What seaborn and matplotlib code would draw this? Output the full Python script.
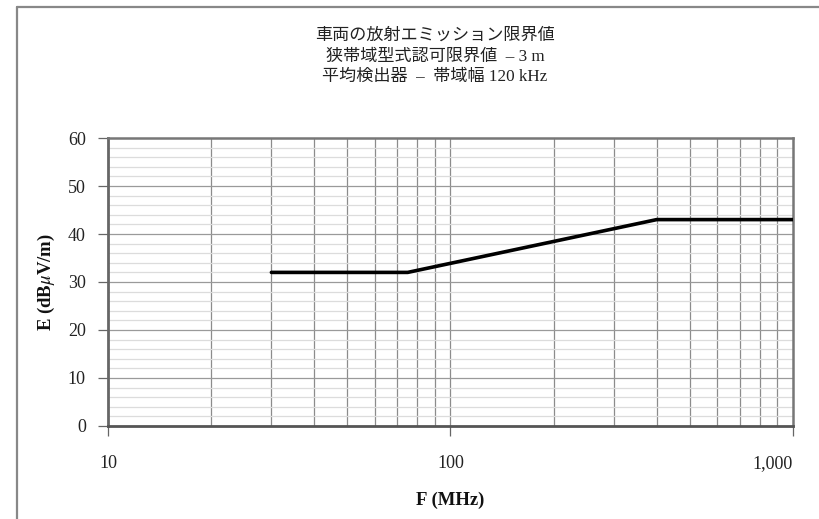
import numpy as np
import pandas as pd
import matplotlib
matplotlib.use("Agg")
import matplotlib.pyplot as plt
from matplotlib.lines import Line2D
from matplotlib.ticker import FixedLocator, FuncFormatter, NullFormatter
import seaborn as sns

# Limit curve: frequency (MHz) vs field strength (dBµV/m)
freq_mhz = [30, 75, 400, 1000]
limit_db = [32, 32, 43, 43]

title_lines = ["車両の放射エミッション限界値", "狭帯域型式認可限界値  – 3 m", "平均検出器  –  帯域幅 120 kHz"]
x_label = "F (MHz)"
y_label = r"E (dB$\mu$V/m)"
x_ticks = [10, 100, 1000]
x_tick_labels = ["10", "100", "1,000"]
y_ticks = [0, 10, 20, 30, 40, 50, 60]

sns.set_theme(style="white")
plt.rcParams["font.family"] = ["Liberation Serif", "Noto Sans CJK JP", "DejaVu Sans"]
plt.rcParams["mathtext.fontset"] = "stix"

fig = plt.figure(figsize=(8.2, 5.19), dpi=100)
ax = fig.add_axes([108 / 820, 93 / 519, 685 / 820, 288 / 519])

df = pd.DataFrame({"freq": freq_mhz, "limit": limit_db})
sns.lineplot(data=df, x="freq", y="limit", ax=ax, color="black", linewidth=2.6,
             zorder=5, sort=False)

ax.set_xscale("log")
ax.set_xlim(10, 1000)
ax.set_ylim(0, 60)

# grid: every decade step vertically, every 2 units horizontally
minor_x = [m * 10 ** e for e in (1, 2) for m in range(2, 10)]
for xv in minor_x + [100]:
    ax.axvline(xv, color="#8c8c8c", linewidth=0.9, zorder=1)
for yv in np.arange(2, 60, 2):
    if yv % 10 == 0:
        ax.axhline(yv, color="#9a9a9a", linewidth=0.9, zorder=1)
    else:
        ax.axhline(yv, color="#dcdcdc", linewidth=0.9, zorder=1)

ax.xaxis.set_major_locator(FixedLocator(x_ticks))
ax.xaxis.set_minor_locator(FixedLocator([]))
ax.xaxis.set_minor_formatter(NullFormatter())
ax.xaxis.set_major_formatter(FuncFormatter(lambda v, p: dict(zip(x_ticks, x_tick_labels)).get(int(round(v)), "")))
ax.set_yticks(y_ticks)

ax.tick_params(axis="both", which="major", direction="out", length=7, width=0.9,
               color="#666666", labelsize=13, labelcolor="#222222")
ax.tick_params(axis="x", pad=14)
ax.tick_params(axis="y", pad=9)
ax.tick_params(left=True, bottom=True)

# keep the last frequency label inside the plot edge
fig.canvas.draw()
ax.get_xticklabels()[-1].set_horizontalalignment("right")
ax.get_xticklabels()[-1].set_x(1000)

for side, sp in ax.spines.items():
    sp.set_visible(True)
    sp.set_color("#777777")
    sp.set_linewidth(1.0)
ax.spines["left"].set_linewidth(2.0)
ax.spines["left"].set_color("#666666")
ax.spines["bottom"].set_linewidth(2.0)
ax.spines["bottom"].set_color("#555555")
ax.spines["top"].set_linewidth(1.8)
ax.spines["right"].set_linewidth(1.8)

ax.set_xlabel(x_label, fontsize=13.5, fontweight="bold", labelpad=14, color="#111111")
ax.set_ylabel(y_label, fontsize=13.5, fontweight="bold", labelpad=8, color="#111111")

for i, line in enumerate(title_lines):
    fig.text(435 / 820, 1 - (36 + 20.5 * i) / 519, line, ha="center", va="center",
             fontsize=12.3, color="#222222")

# page border on the top and left
fig.add_artist(Line2D([17 / 820, 17 / 820], [0, 1 - 7 / 519], transform=fig.transFigure,
                      color="#888888", linewidth=1.6))
fig.add_artist(Line2D([17 / 820, 1], [1 - 7 / 519, 1 - 7 / 519], transform=fig.transFigure,
                      color="#888888", linewidth=1.6))

fig.savefig("out.png", dpi=100)
